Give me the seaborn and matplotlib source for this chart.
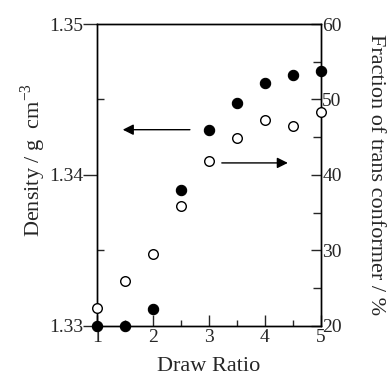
import matplotlib
matplotlib.use("Agg")
import matplotlib.pyplot as plt
import seaborn as sns
import pandas as pd

# data
draw_ratio = [1, 1.5, 2, 2.5, 3, 3.5, 4, 4.5, 5]
density = [1.3300, 1.3300, 1.3311, 1.3390, 1.3430, 1.3448, 1.3461, 1.3466, 1.3469]
trans_fraction = [22.4, 26.0, 29.5, 35.9, 41.8, 44.9, 47.3, 46.5, 48.4]

# arrows pointing to the axis each series belongs to: (x_start, x_end, y)
left_arrow = (2.66, 1.46, 1.3430)
right_arrow = (3.23, 4.41, 41.6)

df = pd.DataFrame({"draw": draw_ratio, "density": density, "trans": trans_fraction})

sns.set_style("ticks")
plt.rcParams["font.family"] = ["Liberation Serif", "DejaVu Serif"]
plt.rcParams["mathtext.fontset"] = "custom"
plt.rcParams["mathtext.rm"] = "Liberation Serif"

fig = plt.figure(figsize=(3.88, 3.81), dpi=100)
ax = fig.add_axes([0.25, 0.1444, 0.577, 0.7926])
ax2 = ax.twinx()

sns.scatterplot(data=df, x="draw", y="density", ax=ax, color="black", s=55,
                edgecolor="black", linewidth=0.8, clip_on=False, zorder=5)
sns.scatterplot(data=df, x="draw", y="trans", ax=ax2, facecolor="white", s=48,
                edgecolor="black", linewidth=1.0, clip_on=False, zorder=5)

ax.set_xlim(1, 5)
ax.set_ylim(1.33, 1.35)
ax2.set_ylim(20, 60)

ax.set_xticks([1, 2, 3, 4, 5])
ax.set_xticks([1.5, 2.5, 3.5, 4.5], minor=True)
ax.set_yticks([1.33, 1.34, 1.35])
ax.set_yticklabels(["1.33", "1.34", "1.35"])
ax.set_yticks([1.335, 1.345], minor=True)
ax2.set_yticks([20, 30, 40, 50, 60])
ax2.set_yticks([25, 35, 45, 55], minor=True)

for a in (ax, ax2):
    for s in a.spines.values():
        s.set_linewidth(1.0)
        s.set_color("black")

ax.tick_params(axis="x", which="major", direction="in", length=8, width=1, labelsize=14, pad=2)
ax.tick_params(axis="x", which="minor", direction="in", length=4, width=1)
ax.tick_params(axis="y", which="major", direction="out", length=10, width=1, labelsize=14, pad=0)
ax.tick_params(axis="y", which="minor", direction="in", length=5, width=1)
ax2.tick_params(axis="y", which="major", direction="in", length=7, width=1, labelsize=14, pad=1)
ax2.tick_params(axis="y", which="minor", direction="in", length=6, width=1)

ax.set_xlabel("Draw Ratio", fontsize=16, labelpad=8)
ax.set_ylabel(r"Density / g  cm$^{-3}$", fontsize=16)
ax.yaxis.set_label_coords(-0.22, 0.55)
ax2.set_ylabel("Fraction of trans conformer / %", fontsize=16, rotation=270, labelpad=31)

arrow_style = dict(arrowstyle="-|>", color="black", lw=1.0, mutation_scale=16, shrinkA=0, shrinkB=0)
ax.annotate("", xy=(left_arrow[1], left_arrow[2]), xytext=(left_arrow[0], left_arrow[2]),
            arrowprops=arrow_style)
ax2.annotate("", xy=(right_arrow[1], right_arrow[2]), xytext=(right_arrow[0], right_arrow[2]),
             arrowprops=arrow_style)

fig.savefig("out.png", dpi=100)
